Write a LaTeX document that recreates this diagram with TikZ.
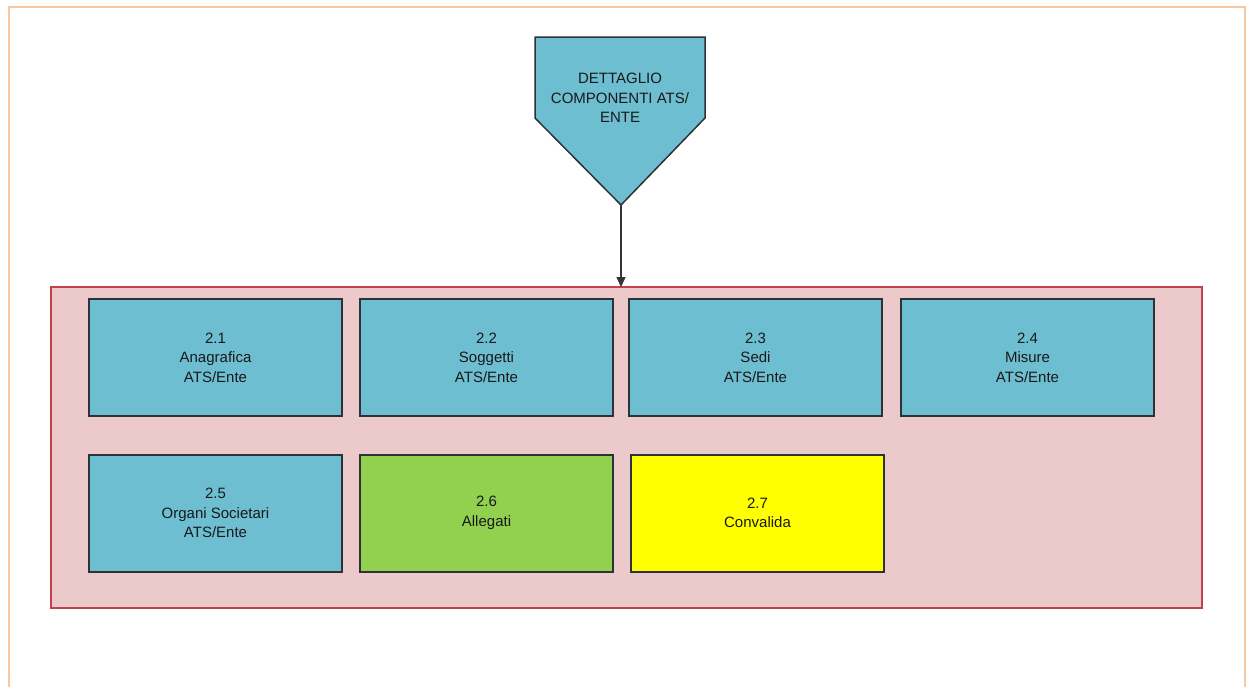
\documentclass[tikz,border=0pt]{standalone}
\usepackage{fontspec}
\setmainfont{Liberation Sans}
\usetikzlibrary{arrows.meta}

\begin{document}
\begin{tikzpicture}[x=1pt,y=-1pt,line width=1pt]
\definecolor{figblue}{RGB}{110,190,210}
\definecolor{figgreen}{RGB}{146,208,80}
\definecolor{figyellow}{RGB}{255,255,0}
\definecolor{figpink}{RGB}{236,202,204}
\definecolor{figred}{RGB}{195,65,75}
\definecolor{figframe}{RGB}{248,200,160}
\definecolor{figedge}{RGB}{45,50,55}
\providecommand{\ffif}{\fontsize{15}{19.5}\selectfont}
\tikzset{
  stepbox/.style={draw=figedge,line width=2pt,minimum width=253pt,minimum height=117pt,
    align=center,font=\ffif,text=black!90,inner sep=0pt},
}
\useasboundingbox (0,0) rectangle (1253,686);
\fill[white] (0,0) rectangle (1253,686);
\draw[figframe,line width=2pt] (9,700) -- (9,7) -- (1245,7) -- (1245,700);
% panel
\node[fill=figpink,minimum width=1150pt,minimum height=320pt,inner sep=0pt]
  (panel) at (626.5,447.5) {};
\draw[figred,line width=1.8pt] (panel.north west) rectangle (panel.south east);
% title shape
\fill[figblue,draw=figedge,line width=1.5pt] (535,37) -- (705,37) -- (705,118) -- (621,205) -- (535,118) -- cycle;
\coordinate (tip) at (621,205);
\node[align=center,font=\ffif,text=black!90] (title) at (620,98) {DETTAGLIO\\COMPONENTI ATS/\\ENTE};
\draw[black!80,line width=1.4pt,-{Triangle[length=10pt,width=9pt]}] (tip) -- (tip |- panel.north);
% first row
\node[stepbox,fill=figblue] (anag) at (215.5,357.5) {2.1\\Anagrafica\\ATS/Ente};
\node[stepbox,fill=figblue] (sogg) at (486.5,357.5) {2.2\\Soggetti\\ATS/Ente};
\node[stepbox,fill=figblue] (sedi) at (755.5,357.5) {2.3\\Sedi\\ATS/Ente};
\node[stepbox,fill=figblue] (misu) at (1027.5,357.5) {2.4\\Misure\\ATS/Ente};
% second row
\node[stepbox,fill=figblue] (orga) at (215.5,513) {2.5\\Organi Societari\\ATS/Ente};
\node[stepbox,fill=figgreen] (alle) at (486.5,513) {2.6\\Allegati};
\node[stepbox,fill=figyellow] (conv) at (757.5,513) {2.7\\Convalida};
\end{tikzpicture}
\end{document}
